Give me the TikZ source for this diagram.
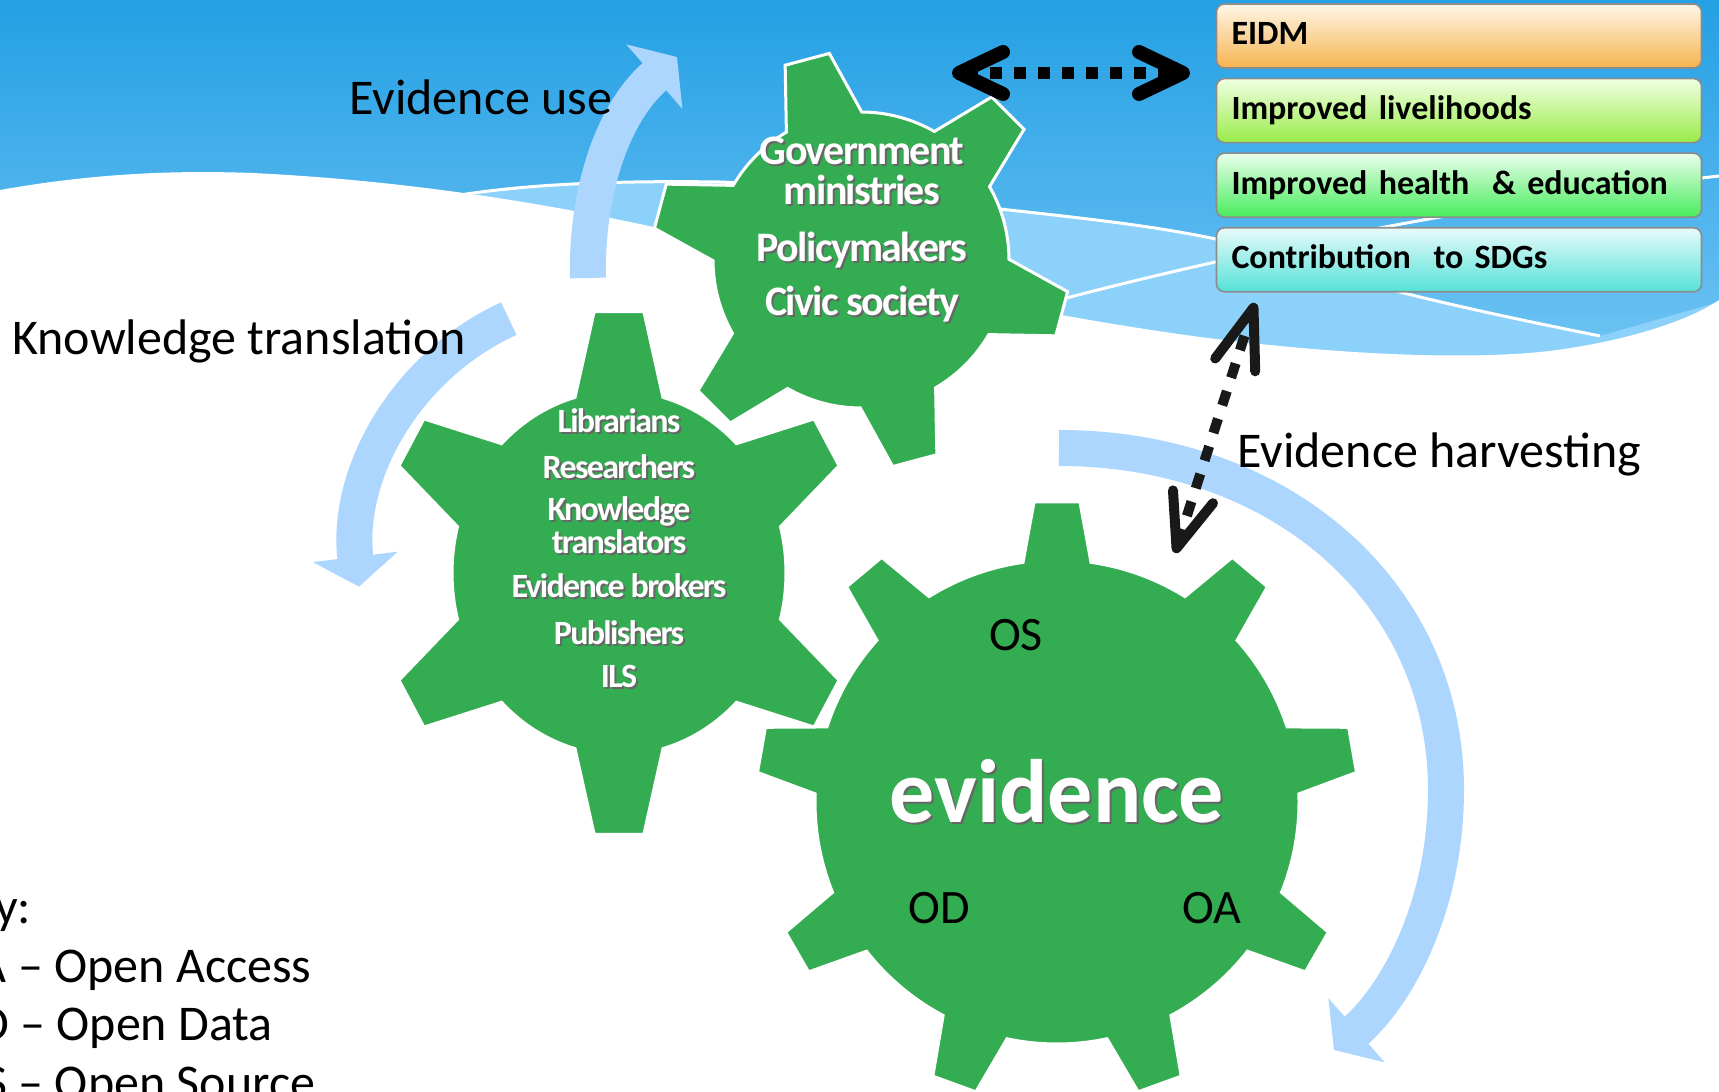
\documentclass[tikz,border=0pt]{standalone}
\usepackage{fontspec}
\setmainfont{Carlito}
\usepackage{tikz}
\usetikzlibrary{arrows.meta, positioning, calc}
\definecolor{skytop}{RGB}{36,160,228}
\definecolor{skylow}{RGB}{118,198,245}
\definecolor{skyband}{RGB}{140,209,249}
\definecolor{coggreen}{RGB}{52,172,82}
\definecolor{flowblue}{RGB}{172,214,254}
\definecolor{eidmtop}{RGB}{255,246,232}
\definecolor{eidmbot}{RGB}{245,180,78}
\definecolor{livetop}{RGB}{240,255,226}
\definecolor{livebot}{RGB}{152,236,72}
\definecolor{healthtop}{RGB}{234,255,236}
\definecolor{healthbot}{RGB}{72,236,92}
\definecolor{sdgtop}{RGB}{232,250,250}
\definecolor{sdgbot}{RGB}{84,226,216}
\newcommand{\shd}[1]{\makebox[0pt][l]{\kern1pt\raisebox{-1pt}{\textcolor{black!60}{#1}}}#1}
\tikzset{
    cogbody/.style={fill=coggreen, draw=white, line width=1.5pt},
    pics/cog/.style n args={6}{code={
        \pgfmathsetmacro\cogb{asin(#4/#2)}
        \pgfmathsetmacro\cogt{atan(#5/#3)}
        \pgfmathsetmacro\cogs{360/#1}
        \path[cogbody] ({#6-\cogb}:#2)
            \foreach \k in {1,...,#1}{
                -- ({#6+(\k-1)*\cogs-\cogt}:#3)
                -- ({#6+(\k-1)*\cogs+\cogt}:#3)
                -- ({#6+(\k-1)*\cogs+\cogb}:#2)
                arc[start angle={#6+(\k-1)*\cogs+\cogb}, end angle={#6+\k*\cogs-\cogb}, radius=#2]
            } -- cycle;
    }},
    wave/.style={draw=white, line width=1.5pt},
    flowarrow/.style={draw=flowblue, line width=18pt, -{Triangle[length=15pt, width=42pt]}},
    linkarrow/.style={draw=black, line width=6pt, dash pattern=on 6pt off 6pt,
                      {Straight Barb[length=22pt, width=21pt, line width=7pt, round]}-{Straight Barb[length=22pt, width=21pt, line width=7pt, round]}},
    harvestlink/.style={draw=black!90, line width=5pt, dash pattern=on 7.5pt off 7pt,
                        {Straight Barb[length=27pt, width=21pt, line width=5pt, round]}-{Straight Barb[length=30pt, width=21pt, line width=5pt, round]}},
    outcome/.style={rectangle, rounded corners=4pt, draw=black!45, line width=0.8pt,
                    minimum width=242.5pt, minimum height=32pt, text width=227.5pt,
                    inner xsep=7.5pt, align=left, text height=12pt, text depth=3pt,
                    font=\fontsize{17}{20}\selectfont\bfseries},
    lbl/.style={font=\fontsize{25}{30}\selectfont, text=black, inner sep=0pt, anchor=base west},
    cogtxt/.style={font=\fontsize{21}{24}\selectfont\bfseries\addfontfeatures{LetterSpace=-4},
                   text=white, inner sep=0pt, anchor=base},
    cogsmall/.style={cogtxt, font=\fontsize{17}{20}\selectfont\bfseries\addfontfeatures{LetterSpace=-5}},
    opentxt/.style={font=\fontsize{24}{28}\selectfont, text=black, inner sep=0pt, anchor=base},
}

\begin{document}
\begin{tikzpicture}[x=0.5pt, y=0.5pt, node distance=4.5pt]
    \useasboundingbox (0,0) rectangle (1719,1092);
    \clip (0,0) rectangle (1719,1092);
    % sky and waves
    \shade[top color=skytop, bottom color=skylow] (0,700) rectangle (1719,1092);
    \fill[skyband] (400,885) .. controls (480,905) and (580,912) .. (720,910)
        .. controls (820,906) and (920,892) .. (1009,882)
        .. controls (1100,872) and (1150,866) .. (1206,855)
        .. controls (1280,840) and (1330,818) .. (1384,804)
        .. controls (1450,787) and (1520,772) .. (1600,756)
        -- (1719,790) -- (1719,700) -- (400,700) -- cycle;
    \draw[wave] (400,885) .. controls (480,905) and (580,912) .. (720,910)
        .. controls (820,906) and (920,892) .. (1009,882)
        .. controls (1100,872) and (1150,866) .. (1206,855)
        .. controls (1280,840) and (1330,818) .. (1384,804)
        .. controls (1450,787) and (1520,772) .. (1600,756);
    \draw[wave] (1040,787) .. controls (1200,830) and (1450,885) .. (1719,916);
    \fill[white] (0,902) .. controls (90,918) and (170,922) .. (252,919)
        .. controls (400,912) and (540,890) .. (658,864)
        .. controls (820,828) and (1000,782) .. (1200,755)
        .. controls (1380,732) and (1500,734) .. (1557,742)
        .. controls (1630,752) and (1690,772) .. (1719,792)
        -- (1719,0) -- (0,0) -- cycle;

    % gear centres
    \coordinate (govc) at (861,832);
    \coordinate (libc) at (619,519);
    \coordinate (evc) at (1057,290);
    \coordinate (ktc) at (617,537);

    % cycle arrows
    \draw[flowarrow] (588,814) .. controls (586,890) and (608,975) .. (677,1035);
    \draw[flowarrow] (ktc) ++(114.6:260) arc[start angle=114.6, end angle=187, radius=260];
    \draw[flowarrow] (1059,644) .. controls (1280,644) and (1446,500) .. (1446,302)
        .. controls (1446,190) and (1400,100) .. (1334,42);

    % gears
    \pic at (evc) {cog={9}{242}{301}{34}{23}{90}};
    \pic[yscale=1.09] at (libc) {cog={6}{167}{241}{44}{25}{90}};
    \pic at (govc) {cog={6}{148}{209}{39}{23}{105}};

    \node[cogtxt] (gov) at (862,927) {\shd{Government}};
    \node[cogtxt] (min) at (862,887) {\shd{ministries}};
    \node[cogtxt] (pol) at (862,830) {\shd{Policymakers}};
    \node[cogtxt] (civ) at (862,776) {\shd{Civic society}};

    \node[cogsmall] (lib) at (619,659) {\shd{Librarians}};
    \node[cogsmall] (res) at (619,613) {\shd{Researchers}};
    \node[cogsmall] (knw) at (619,571) {\shd{Knowledge}};
    \node[cogsmall] (trn) at (619,538) {\shd{translators}};
    \node[cogsmall] (brk) at (619,494) {\shd{Evidence brokers}};
    \node[cogsmall] (pub) at (619,447) {\shd{Publishers}};
    \node[cogsmall] (ils) at (619,404) {\shd{ILS}};

    \node[cogtxt, font=\fontsize{45}{50}\selectfont\bfseries] (evid) at (1057,269) {\shd{evidence}};
    \node[opentxt] (os) at (1016,441) {OS};
    \node[opentxt] (od) at (939,168) {OD};
    \node[opentxt] (oa) at (1212,168) {OA};

    % labels
    \node[lbl] (use) at (349,977) {Evidence use};
    \node[lbl] (kt) at (12,737) {Knowledge translation};
    \node[lbl] (harv) at (1237,624) {Evidence harvesting};

    % key
    \node[lbl] (key) at (-55,168) {Key:};
    \node[lbl] (keyoa) at (-55,109) {OA -- Open Access};
    \node[lbl] (keyod) at (-55,51) {OD -- Open Data};
    \node[lbl] (keyos) at (-49,-8) {OS -- Open Source};

    % outcomes
    \node[outcome, top color=eidmtop, bottom color=eidmbot] (eidm) at (1459,1056) {EIDM};
    \node[outcome, top color=livetop, bottom color=livebot, below=of eidm] (live) {Improved livelihoods};
    \node[outcome, top color=healthtop, bottom color=healthbot, below=of live] (health) {Improved health\ \ \& education};
    \node[outcome, top color=sdgtop, bottom color=sdgbot, below=of health] (sdg) {Contribution\ \ to SDGs};

    % links
    \coordinate (dl) at (952,1019);
    \coordinate (dr) at (1190,1019);
    \draw[linkarrow] (dl) -- (dr);
    \coordinate (hb) at (1175,539);
    \coordinate (ht) at (1255,789);
    \draw[harvestlink] (hb) -- (ht);
\end{tikzpicture}
\end{document}
